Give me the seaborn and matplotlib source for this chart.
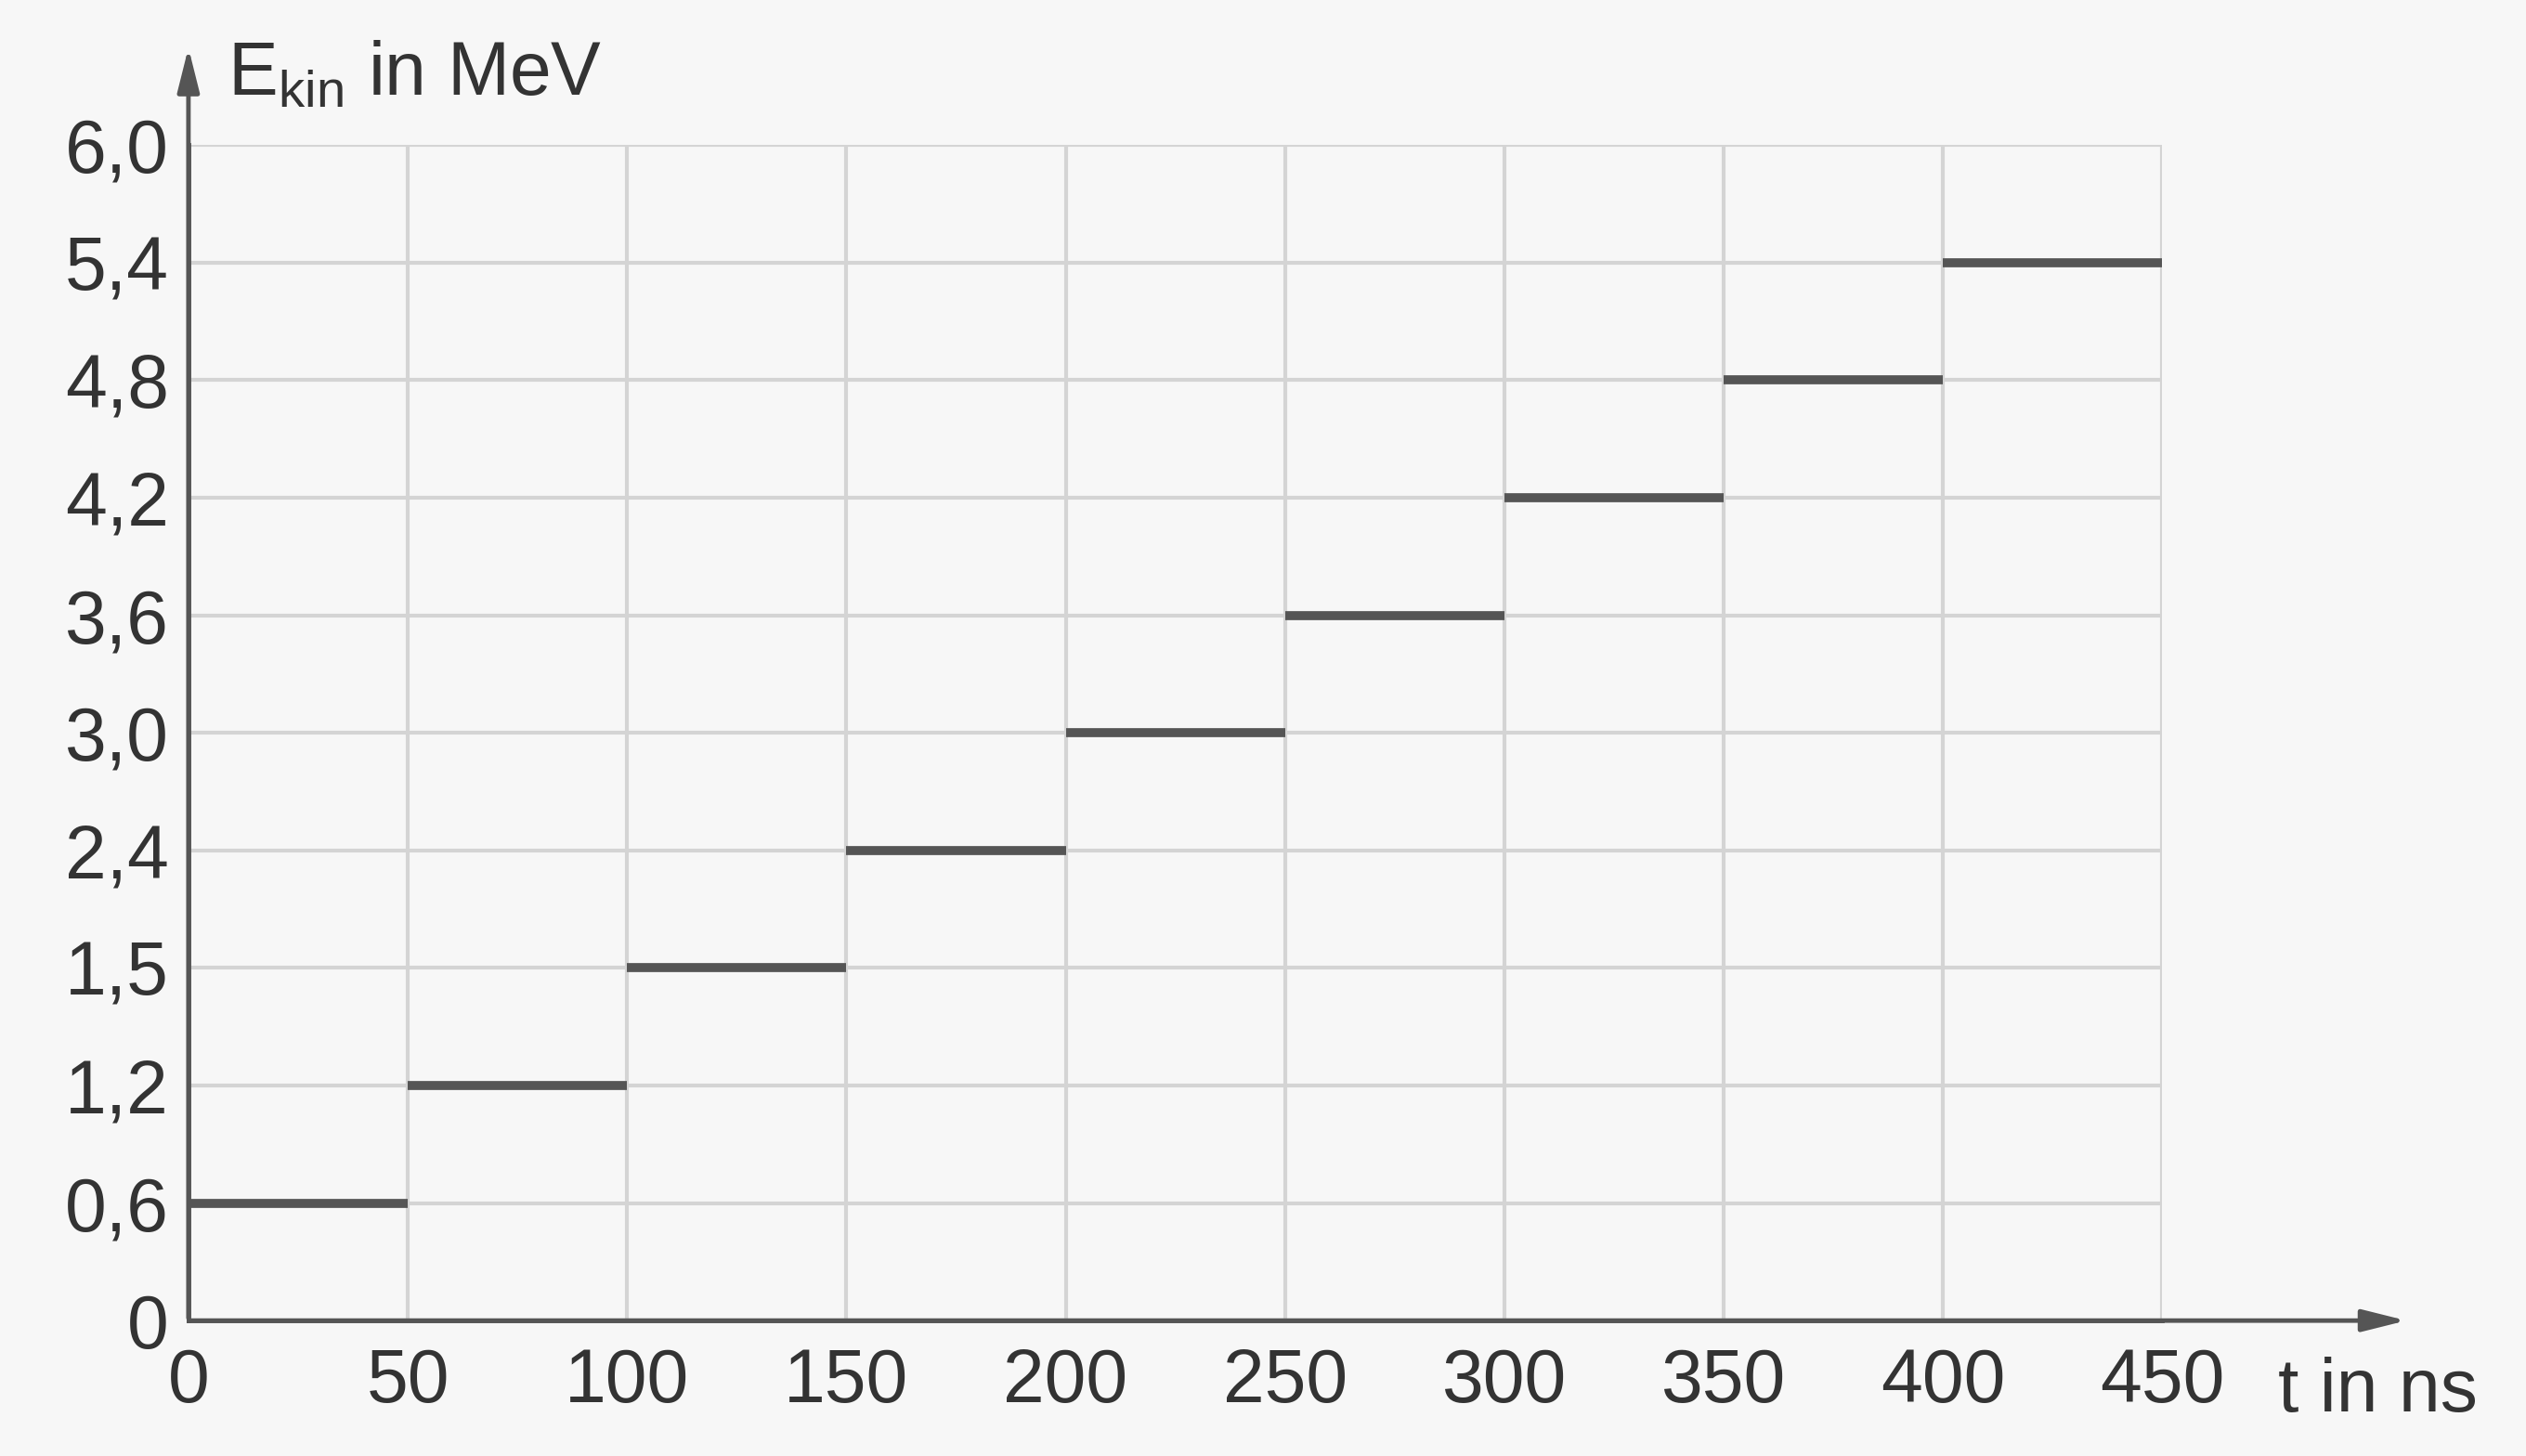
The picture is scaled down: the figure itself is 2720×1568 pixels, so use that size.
import matplotlib
matplotlib.use("Agg")
import matplotlib.pyplot as plt
import seaborn as sns
import pandas as pd

y_tick_labels = ["0", "0,6", "1,2", "1,5", "2,4", "3,0", "3,6", "4,2", "4,8", "5,4", "6,0"]
x_ticks = [0, 50, 100, 150, 200, 250, 300, 350, 400, 450]
t_start = [0, 50, 100, 150, 200, 250, 300, 350, 400]
t_end = [50, 100, 150, 200, 250, 300, 350, 400, 450]
energy = ["0,6", "1,2", "1,5", "2,4", "3,0", "3,6", "4,2", "4,8", "5,4"]

sns.set_theme(style="white")
plt.rcParams['font.family'] = ['Liberation Sans', 'DejaVu Sans']

fig = plt.figure(figsize=(27.2, 15.68), dpi=100)
fig.patch.set_facecolor("#f7f7f7")
ax = fig.add_axes([0.0746, 0.093, 0.7814, 0.8074])
ax.set_facecolor("#f7f7f7")

pos = [y_tick_labels.index(e) for e in energy]
rows = []
for i, (a, b, p) in enumerate(zip(t_start, t_end, pos)):
    rows += [{"t": a, "y": p, "seg": i}, {"t": b, "y": p, "seg": i}]
df = pd.DataFrame(rows)
sns.lineplot(data=df, x="t", y="y", units="seg", estimator=None, color="#555555",
             linewidth=7, ax=ax, legend=False, solid_capstyle="butt", zorder=3)

ax.set_xlim(0, 450)
ax.set_ylim(0, 10)
ax.set_xticks(x_ticks)
ax.set_xticklabels([str(v) for v in x_ticks])
ax.set_yticks(range(len(y_tick_labels)))
ax.set_yticklabels(y_tick_labels)
ax.grid(True, color="#d4d4d4", linewidth=3)
for s in ["top", "right"]:
    ax.spines[s].set_visible(False)
for s in ["left", "bottom"]:
    ax.spines[s].set_color("#555555")
    ax.spines[s].set_linewidth(3.5)
ax.tick_params(axis="both", labelsize=58, colors="#333333", length=14, width=3,
               direction="inout", pad=8)
ax.tick_params(axis="x", pad=14)
ax.set_xlabel("")
ax.set_ylabel("")

ax.annotate("", xy=(1.125, 0), xytext=(0, 0), xycoords="axes fraction",
            arrowprops=dict(arrowstyle="-|>,head_length=2.4,head_width=0.6", color="#555555", lw=3.5),
            annotation_clip=False)
ax.annotate("", xy=(0, 1.085), xytext=(0, 0), xycoords="axes fraction",
            arrowprops=dict(arrowstyle="-|>,head_length=2.4,head_width=0.6", color="#555555", lw=3.5),
            annotation_clip=False)
fig.text(0.09, 0.948, r"E$_{\mathregular{kin}}$ in MeV", fontsize=58, color="#333333", va="center")
fig.text(0.902, 0.044, "t in ns", fontsize=58, color="#333333", va="center")

fig.savefig("out.png", dpi=100, facecolor=fig.get_facecolor())
